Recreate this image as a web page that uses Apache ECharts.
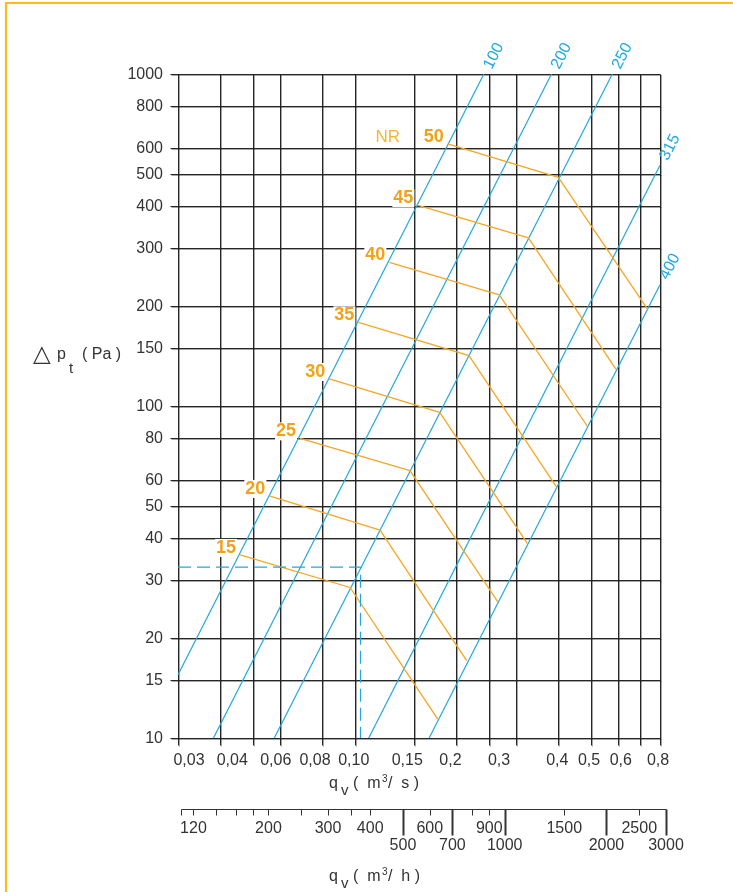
<!DOCTYPE html>
<html><head><meta charset="utf-8">
<script src="https://cdn.jsdelivr.net/npm/echarts@6/dist/echarts.min.js"></script>
<style>html,body{margin:0;padding:0;background:#fff}#c{width:733px;height:892px}</style>
</head><body><div id="c"></div>
<script>
// ---- axis ticks / labels ----
const xTicks = [0.03,0.04,0.05,0.06,0.08,0.10,0.15,0.2,0.25,0.3,0.4,0.5,0.6,0.7,0.8];
const xLabelValues = [0.03,0.04,0.06,0.08,0.10,0.15,0.2,0.3,0.4,0.5,0.6,0.8];
const xLabelTexts = ['0,03','0,04','0,06','0,08','0,10','0,15','0,2','0,3','0,4','0,5','0,6','0,8'];
const yTicks = [10,15,20,30,40,50,60,80,100,150,200,300,400,500,600,800,1000];
const hTicks = [110,120,140,160,180,200,250,300,350,400,500,600,700,800,900,1000,1500,2000,2500,3000];
const hMajor = [500,700,1000,2000,3000];
const hLabelsUpper = [120,200,300,400,600,900,1500,2500];
const hLabelsLower = [500,700,1000,2000,3000];

// ---- duct size lines (q m3/s, dp Pa) ----
const ductNames = ['100','200','250','315','400'];
const duct100 = [[0.03,15.5],[0.241,1000]];
const duct200 = [[0.0382,10],[0.382,1000]];
const duct250 = [[0.0578,10],[0.578,1000]];
const duct315 = [[0.110,10],[0.8,531]];
const duct400 = [[0.166,10],[0.8,232]];

// ---- NR curves ----
const nrLevels = ['15','20','25','30','35','40','45','50'];
const nr15 = [[0.0458,35.6],[0.0969,28.4],[0.176,11.4]];
const nr20 = [[0.0559,53.6],[0.1188,42.3],[0.2144,17.1]];
const nr25 = [[0.0689,79.9],[0.1457,63.9],[0.265,25.7]];
const nr30 = [[0.0841,120.6],[0.1784,95.7],[0.3244,38.5]];
const nr35 = [[0.1025,178.7],[0.2178,141.8],[0.396,56.9]];
const nr40 = [[0.1266,270.8],[0.2678,216],[0.4875,86.9]];
const nr45 = [[0.1532,403],[0.3264,321],[0.5929,129]];
const nr50 = [[0.1884,615.5],[0.4003,488.5],[0.7357,195.6]];

// ---- example reading ----
const refPoint = [0.104, 32.7];

// layout constants (pixel nudges of x tick labels, as typeset in the original)
const X_LABEL_NUDGE = [11,12,-4,-7,-1,-7,-6,-17,-1,-2,3,-2];

const X_MIN = 0.03, X_MAX = 0.8, Y_MIN = 10, Y_MAX = 1000;
const FONT = '"Liberation Sans", Arial, Helvetica, sans-serif';
const TXT = '#333';
const BLUE = '#1fa8e0';
const ORANGE = '#f6a524';
const ORANGE_TXT = '#f5a117';

const ducts = [duct100, duct200, duct250, duct315, duct400];
const nrs = [nr15, nr20, nr25, nr30, nr35, nr40, nr45, nr50];

function gridStyle() {
  return {stroke:'#262626', lineWidth:1, shadowColor:'rgba(0,0,0,0.35)', shadowOffsetX:1, shadowOffsetY:1, shadowBlur:0};
}
function txt(x, y, text, opts) {
  const o = Object.assign({size:16, weight:'normal', fill:TXT, align:'center', va:'middle'}, opts||{});
  return {type:'text', x, y, rotation:o.rotation||0, style:{
    text, fill:o.fill, font: o.weight + ' ' + o.size + 'px ' + FONT,
    align:o.align, textAlign:o.align, verticalAlign:o.va, textVerticalAlign:o.va,
    backgroundColor:o.bg, padding:o.pad
  }};
}
function custom(name, data, renderItem, z) {
  return {type:'custom', name, coordinateSystem:'cartesian2d', data, renderItem,
          clip:false, silent:true, animation:false, z:z||1};
}

const series = [];

// vertical grid lines + ticks
series.push(custom('xgrid', xTicks.map(v=>[v, Y_MIN]), function(p, api){
  const b = api.coord([api.value(0), Y_MIN]), t = api.coord([api.value(0), Y_MAX]);
  const x = Math.round(b[0]) + 0.5;
  return {type:'line', shape:{x1:x, y1:Math.round(t[1])+0.5, x2:x, y2:Math.round(b[1])+7.5}, style:gridStyle()};
}));
// horizontal grid lines + ticks + labels
series.push(custom('ygrid', yTicks.map(v=>[X_MIN, v]), function(p, api){
  const l = api.coord([X_MIN, api.value(1)]), r = api.coord([X_MAX, api.value(1)]);
  const y = Math.round(l[1]) + 0.5;
  return {type:'group', children:[
    {type:'line', shape:{x1:Math.round(l[0])-7.5, y1:y, x2:Math.round(r[0])+0.5, y2:y}, style:gridStyle()},
    txt(l[0]-15, y, String(yTicks[p.dataIndex]), {align:'right'})
  ]};
}));
// x labels
series.push(custom('xlabels', xLabelValues.map(v=>[v, Y_MIN]), function(p, api){
  const b = api.coord([api.value(0), Y_MIN]);
  return txt(b[0] + X_LABEL_NUDGE[p.dataIndex], b[1]+23, xLabelTexts[p.dataIndex]);
}));
// secondary m3/h axis
series.push(custom('haxis', hTicks.map(v=>[v/3600, Y_MIN]), function(p, api){
  const b = api.coord([api.value(0), Y_MIN]);
  const y0 = Math.round(b[1]) + 71.5;
  const x = Math.round(b[0]) + 0.5;
  const val = hTicks[p.dataIndex];
  const major = hMajor.indexOf(val) >= 0;
  const ch = [{type:'line', shape:{x1:x, y1:y0, x2:x, y2:y0 + (major?26:6)},
               style:{stroke:'#333', lineWidth: major?2:1}}];
  if (p.dataIndex === 0) {
    const e = api.coord([hTicks[hTicks.length-1]/3600, Y_MIN]);
    ch.push({type:'line', shape:{x1:x, y1:y0, x2:Math.round(e[0])+0.5, y2:y0}, style:{stroke:'#333', lineWidth:1.2}});
  }
  if (hLabelsUpper.indexOf(val) >= 0) ch.push(txt(b[0], y0+19, String(val)));
  if (hLabelsLower.indexOf(val) >= 0) ch.push(txt(b[0], y0+36, String(val)));
  return {type:'group', children:ch};
}));

// duct lines
ducts.forEach((d, i) => {
  series.push({type:'line', name:'d'+ductNames[i], data:d, symbol:'none', silent:true, animation:false,
    lineStyle:{color:BLUE, width:1.2}, z:3});
});
// NR curves
nrs.forEach((d, i) => {
  series.push({type:'line', name:'NR'+nrLevels[i], data:d, symbol:'none', silent:true, animation:false,
    lineStyle:{color:ORANGE, width:1.3}, z:3});
});
// reference dashed reading
series.push({type:'line', name:'ref', data:[[X_MIN, refPoint[1]], refPoint, [refPoint[0], Y_MIN]],
  symbol:'none', silent:true, animation:false, lineStyle:{color:BLUE, width:1.2, type:[13,6]}, z:3});

// duct labels
const ANG = 63 * Math.PI / 180;
series.push(custom('ductlabels', ducts.map(d=>d[d.length-1]), function(p, api){
  const e = api.coord([api.value(0), api.value(1)]);
  return txt(e[0] + 10, e[1] - 18, ductNames[p.dataIndex], {fill:BLUE, rotation:ANG, size:16});
}, 4));
// NR labels
series.push(custom('nrlabels', nrs.map(d=>d[0]), function(p, api){
  const s = api.coord([api.value(0), api.value(1)]);
  const ch = [txt(s[0]-3, s[1]-7, nrLevels[p.dataIndex], {align:'right', weight:'bold', size:18, fill:ORANGE_TXT, bg:'#fff', pad:[0,1]})];
  if (p.dataIndex === nrs.length - 1) ch.push(txt(s[0]-60, s[1]-7, 'NR', {size:17, fill:'#f8b535'}));
  return {type:'group', children:ch};
}, 2));

const FR = '#fdba21';
const graphic = [
  {type:'line', shape:{x1:6, y1:2, x2:6, y2:892}, style:{stroke:FR, lineWidth:2.2}},
  {type:'line', shape:{x1:5, y1:3, x2:733, y2:3}, style:{stroke:FR, lineWidth:2.2}},
  // y axis title
  {type:'text', x:33, y:355, style:{text:'\u25B3', font:'23px "DejaVu Sans", sans-serif', fill:TXT, align:'left', textAlign:'left', verticalAlign:'middle', textVerticalAlign:'middle'}},
  {type:'text', x:57, y:355, style:{text:'p', font:'16px '+FONT, fill:TXT, align:'left', textAlign:'left', verticalAlign:'middle', textVerticalAlign:'middle'}},
  {type:'text', x:69, y:369, style:{text:'t', font:'15px '+FONT, fill:TXT, align:'left', textAlign:'left', verticalAlign:'middle', textVerticalAlign:'middle'}},
  {type:'text', x:82, y:355, style:{text:'( Pa )', font:'16px '+FONT, fill:TXT, align:'left', textAlign:'left', verticalAlign:'middle', textVerticalAlign:'middle'}},
];
function unitTitle(y, unit) {
  const st = (text, size) => ({text, font:size+'px '+FONT, fill:TXT, align:'left', textAlign:'left', verticalAlign:'middle', textVerticalAlign:'middle'});
  return [
    {type:'text', x:329, y:y, style:st('q',16)},
    {type:'text', x:341, y:y+7, style:st('v',15)},
    {type:'text', x:353, y:y, style:st('(  m',16)},
    {type:'text', x:382, y:y-5, style:st('3',10)},
    {type:'text', x:388, y:y, style:st('/  '+unit+' )',16)},
  ];
}
graphic.push(...unitTitle(784, 's'), ...unitTitle(877, 'h'));

const chart = echarts.init(document.getElementById('c'), null, {renderer:'canvas'});
chart.setOption({
  animation:false,
  backgroundColor:'#fff',
  grid:{left:178, right:73, top:74, bottom:154},
  xAxis:{type:'log', logBase:10, min:X_MIN, max:X_MAX, axisLine:{show:false}, axisTick:{show:false}, axisLabel:{show:false}, splitLine:{show:false}},
  yAxis:{type:'log', logBase:10, min:Y_MIN, max:Y_MAX, axisLine:{show:false}, axisTick:{show:false}, axisLabel:{show:false}, splitLine:{show:false}},
  series,
  graphic
});
</script></body></html>
